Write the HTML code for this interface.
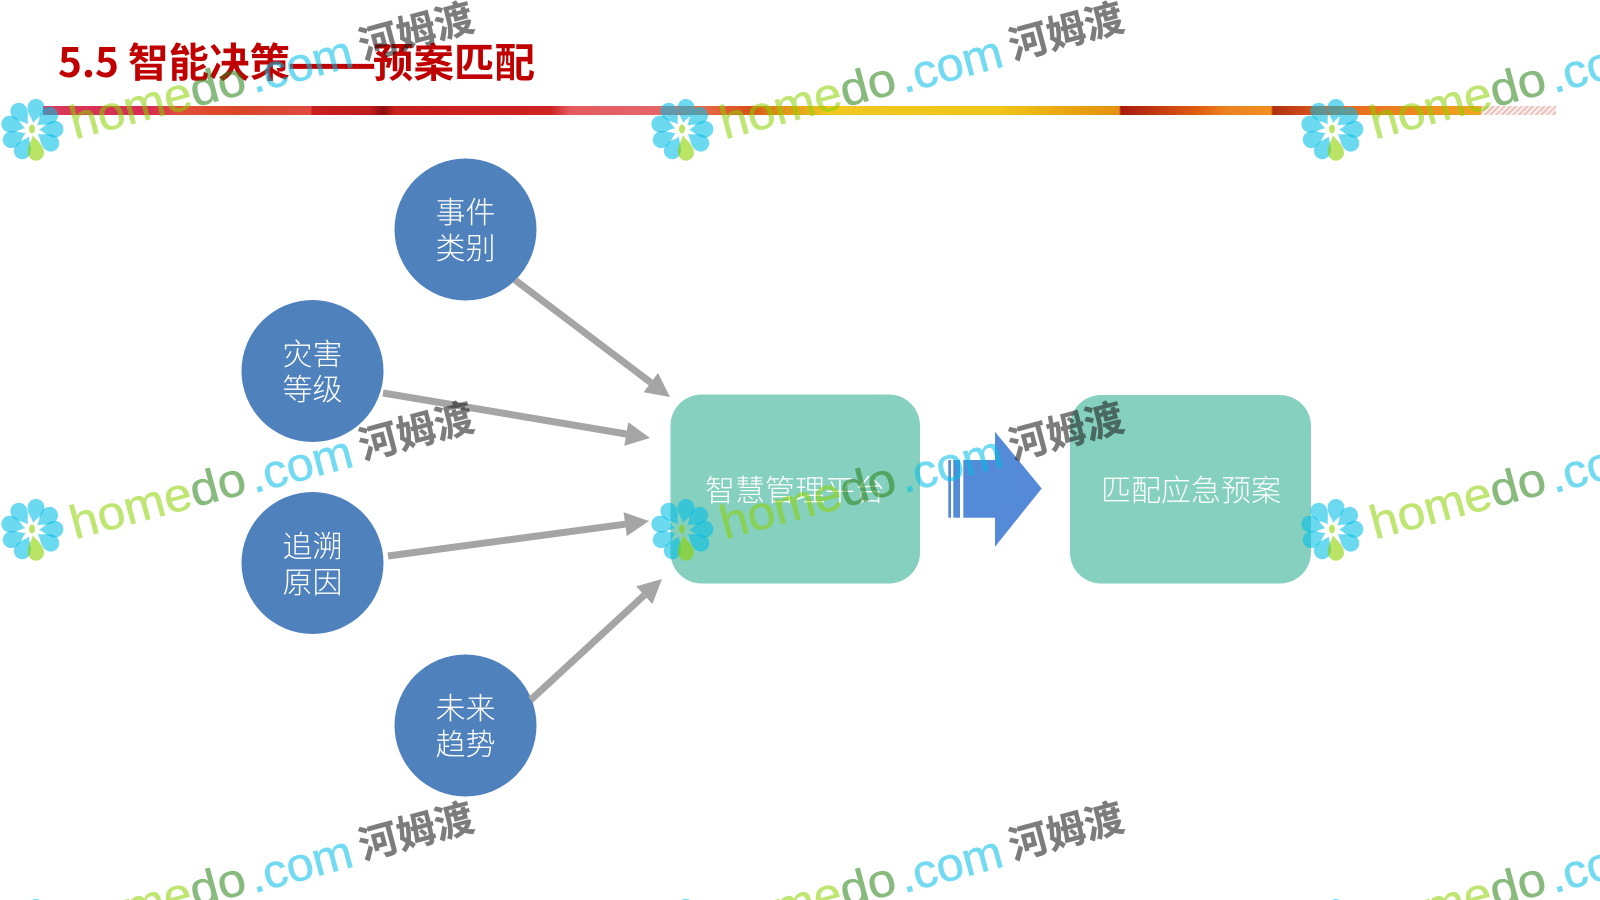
<!DOCTYPE html>
<html lang="zh">
<head>
<meta charset="utf-8">
<title>5.5 智能决策——预案匹配</title>
<style>
html,body{margin:0;padding:0;background:#fff;width:1600px;height:900px;overflow:hidden}
svg{position:absolute;left:0;top:0}
.bar{position:absolute;left:43px;top:106px;width:1513px;height:9px;
background:linear-gradient(90deg,#d83a5a 0,#d62a52 107px,#e0503c 137px,#e0482a 167px,#d84528 197px,#de4a40 268px,#c81e1e 269px,#c01c1c 327px,#8b0e0e 340px,#c8201c 352px,#cc2222 507px,#e45a60 527px,#e4646a 607px,#e86a4a 657px,#d8501a 707px,#e09018 737px,#f0c820 787px,#f0c418 957px,#e8a010 1037px,#e49010 1076px,#a81a10 1078px,#e06010 1157px,#ec8020 1182px,#f09020 1228px,#b03010 1230px,#e86020 1287px,#f0a820 1437px,#f0b020 1438px)}
.bar2{position:absolute;left:1481px;top:106px;width:75px;height:9px;
background:repeating-linear-gradient(135deg,#e8c4bc 0,#e8c4bc 2px,#fbf0ee 2px,#fbf0ee 4px)}
.w1{font-family:"Liberation Sans",sans-serif;font-size:47px;stroke-width:.6;opacity:.55}
.a{fill:#8cd200;stroke:#8cd200}
.b{fill:#288214;stroke:#288214}
.c{fill:#00bee6;stroke:#00bee6;opacity:.55}
.w2{font-family:"Liberation Sans","Noto Sans CJK SC",sans-serif;font-size:39px;font-weight:700;fill:#1e1e1e;stroke:#1e1e1e;stroke-width:.3;opacity:.58}
.t{font-family:"Liberation Sans","Noto Sans CJK SC",sans-serif;font-size:30px;font-weight:300;fill:#fff;text-anchor:middle}
.h{font-family:"Noto Sans CJK SC","Liberation Sans",sans-serif;font-size:40.5px;font-weight:700;fill:#c00000}
</style>
</head>
<body>
<div class="bar"></div>
<div class="bar2"></div>
<svg width="1600" height="900" viewBox="0 0 1600 900" xmlns="http://www.w3.org/2000/svg">
<defs>
<path id="pt" d="M0,-7C-2,-12-8.4,-16-8.4,-23A8.4,8.4 0 0 1 8.4,-23C8.4,-16 2,-12 0,-7Z"/>
<g id="fl">
<g fill="rgba(0,190,230,.58)">
<use href="#pt" transform="rotate(10)"/>
<use href="#pt" transform="rotate(50)"/>
<use href="#pt" transform="rotate(88)"/>
<use href="#pt" transform="rotate(125)"/>
<use href="#pt" transform="rotate(205)"/>
<use href="#pt" transform="rotate(245)"/>
<use href="#pt" transform="rotate(285)"/>
<use href="#pt" transform="rotate(325)"/>
</g>
<g fill="rgba(140,210,0,.6)">
<path transform="rotate(170)" d="M0,-5C-2,-11-8,-15-8,-23A8,8 0 0 1 8,-23C8,-15 2,-11 0,-5Z"/>
<ellipse cx="0" cy="-1" rx="3" ry="4.5"/>
</g>
</g>
</defs>

<!-- title -->
<text class="h" y="77"><tspan x="58">5.5</tspan><tspan x="128">智能决策</tspan></text>
<text class="h" x="288" y="78" textLength="88" lengthAdjust="spacingAndGlyphs" style="stroke:#c00000;stroke-width:1.2">——</text>
<text class="h" x="373" y="77">预案匹配</text>

<!-- circles -->
<g fill="#4f81bd">
<circle cx="465.5" cy="229.5" r="71"/>
<circle cx="312.5" cy="371" r="71"/>
<circle cx="312.5" cy="563" r="71"/>
<circle cx="465.5" cy="725.5" r="71"/>
</g>
<text class="t" x="465.5" y="223">事件</text><text class="t" x="465.5" y="259">类别</text>
<text class="t" x="312.5" y="365">灾害</text><text class="t" x="312.5" y="400">等级</text>
<text class="t" x="312.5" y="557">追溯</text><text class="t" x="312.5" y="593">原因</text>
<text class="t" x="465.5" y="719">未来</text><text class="t" x="465.5" y="755">趋势</text>

<!-- rounded boxes -->
<rect x="670.5" y="394.5" width="249.5" height="189" rx="31" fill="#85d0be"/>
<rect x="1070" y="395" width="241" height="188.5" rx="31" fill="#85d0be"/>
<text class="t" x="795" y="501">智慧管理平台</text>
<text class="t" x="1191" y="501">匹配应急预案</text>

<!-- connectors -->
<g stroke="#a5a5a5" stroke-width="7" fill="none">
<line x1="515" y1="280" x2="650.8" y2="382.6"/>
<line x1="383" y1="393" x2="626.3" y2="434"/>
<line x1="388" y1="556" x2="625.2" y2="524.2"/>
<line x1="530.6" y1="700" x2="644.3" y2="595.2"/>
</g>
<g fill="#a5a5a5">
<polygon points="670,397 643.6,392.2 658,373"/>
<polygon points="650,438 624.3,445.8 628.3,422.2"/>
<polygon points="649,521 626.8,536.1 623.6,512.3"/>
<polygon points="662,579 652.4,604 636.2,586.4"/>
</g>

<!-- block arrow -->
<g fill="#558ad8">
<rect x="948.3" y="460" width="2.7" height="57.7"/>
<rect x="953.3" y="460" width="6.7" height="57.7"/>
<polygon points="963.3,460 995,460 995,431.7 1041.7,488.5 995,546.7 995,517.7 963.3,517.7"/>
</g>

<!-- watermark tiles -->
<g transform="translate(32,130)"><use href="#fl"/><g transform="rotate(-15)"><text class="w1 a" x="39" y="20" textLength="124" lengthAdjust="spacingAndGlyphs">home</text><text class="w1 b" x="163" y="20" textLength="56" lengthAdjust="spacingAndGlyphs">do</text><text class="w1 c" x="224" y="22" textLength="105" lengthAdjust="spacingAndGlyphs">.com</text><text class="w2" x="338" y="18">河姆渡</text></g></g>
<g transform="translate(682,130)"><use href="#fl"/><g transform="rotate(-15)"><text class="w1 a" x="39" y="20" textLength="124" lengthAdjust="spacingAndGlyphs">home</text><text class="w1 b" x="163" y="20" textLength="56" lengthAdjust="spacingAndGlyphs">do</text><text class="w1 c" x="224" y="22" textLength="105" lengthAdjust="spacingAndGlyphs">.com</text><text class="w2" x="338" y="18">河姆渡</text></g></g>
<g transform="translate(1332,130)"><use href="#fl"/><g transform="rotate(-15)"><text class="w1 a" x="39" y="20" textLength="124" lengthAdjust="spacingAndGlyphs">home</text><text class="w1 b" x="163" y="20" textLength="56" lengthAdjust="spacingAndGlyphs">do</text><text class="w1 c" x="224" y="22" textLength="105" lengthAdjust="spacingAndGlyphs">.com</text><text class="w2" x="338" y="18">河姆渡</text></g></g>
<g transform="translate(32,530)"><use href="#fl"/><g transform="rotate(-15)"><text class="w1 a" x="39" y="20" textLength="124" lengthAdjust="spacingAndGlyphs">home</text><text class="w1 b" x="163" y="20" textLength="56" lengthAdjust="spacingAndGlyphs">do</text><text class="w1 c" x="224" y="22" textLength="105" lengthAdjust="spacingAndGlyphs">.com</text><text class="w2" x="338" y="18">河姆渡</text></g></g>
<g transform="translate(682,530)"><use href="#fl"/><g transform="rotate(-15)"><text class="w1 a" x="39" y="20" textLength="124" lengthAdjust="spacingAndGlyphs">home</text><text class="w1 b" x="163" y="20" textLength="56" lengthAdjust="spacingAndGlyphs">do</text><text class="w1 c" x="224" y="22" textLength="105" lengthAdjust="spacingAndGlyphs">.com</text><text class="w2" x="338" y="18">河姆渡</text></g></g>
<g transform="translate(1332,530)"><use href="#fl"/><g transform="rotate(-15)"><text class="w1 a" x="39" y="20" textLength="124" lengthAdjust="spacingAndGlyphs">home</text><text class="w1 b" x="163" y="20" textLength="56" lengthAdjust="spacingAndGlyphs">do</text><text class="w1 c" x="224" y="22" textLength="105" lengthAdjust="spacingAndGlyphs">.com</text><text class="w2" x="338" y="18">河姆渡</text></g></g>
<g transform="translate(32,930)"><use href="#fl"/><g transform="rotate(-15)"><text class="w1 a" x="39" y="20" textLength="124" lengthAdjust="spacingAndGlyphs">home</text><text class="w1 b" x="163" y="20" textLength="56" lengthAdjust="spacingAndGlyphs">do</text><text class="w1 c" x="224" y="22" textLength="105" lengthAdjust="spacingAndGlyphs">.com</text><text class="w2" x="338" y="18">河姆渡</text></g></g>
<g transform="translate(682,930)"><use href="#fl"/><g transform="rotate(-15)"><text class="w1 a" x="39" y="20" textLength="124" lengthAdjust="spacingAndGlyphs">home</text><text class="w1 b" x="163" y="20" textLength="56" lengthAdjust="spacingAndGlyphs">do</text><text class="w1 c" x="224" y="22" textLength="105" lengthAdjust="spacingAndGlyphs">.com</text><text class="w2" x="338" y="18">河姆渡</text></g></g>
<g transform="translate(1332,930)"><use href="#fl"/><g transform="rotate(-15)"><text class="w1 a" x="39" y="20" textLength="124" lengthAdjust="spacingAndGlyphs">home</text><text class="w1 b" x="163" y="20" textLength="56" lengthAdjust="spacingAndGlyphs">do</text><text class="w1 c" x="224" y="22" textLength="105" lengthAdjust="spacingAndGlyphs">.com</text><text class="w2" x="338" y="18">河姆渡</text></g></g>
</svg>
</body>
</html>
